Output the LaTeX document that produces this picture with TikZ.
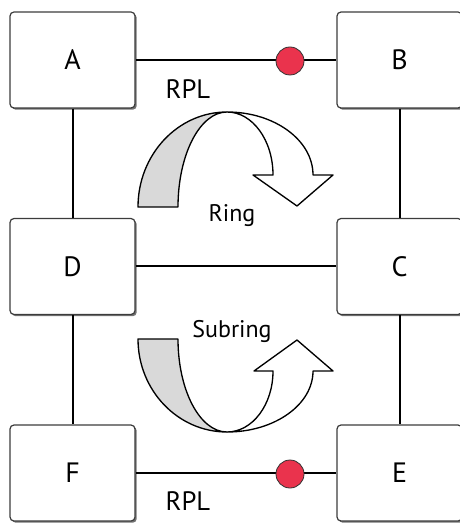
\documentclass[tikz,border=0pt]{standalone}
\usepackage{fontspec}
\setmainfont{PT Sans}
\usetikzlibrary{shadows}
\definecolor{rplred}{RGB}{234,51,77}
\definecolor{bandgray}{RGB}{217,217,217}
\definecolor{boxedge}{RGB}{60,60,60}
\begin{document}
\begin{tikzpicture}[x=0.75pt,y=-0.75pt,
  devbox/.style={draw=boxedge,line width=0.9pt,fill=white,rounded corners=3pt,
    minimum width=93.75pt,minimum height=72pt,inner sep=0pt,font=\fontsize{21}{24}\selectfont,
    drop shadow={shadow xshift=1.3pt,shadow yshift=-1.3pt,fill=black!55,opacity=1}},
  link/.style={line width=1.5pt,black},
  blocker/.style={circle,draw=black!80,line width=0.6pt,fill=rplred,minimum size=21pt,inner sep=0pt},
  lbl/.style={font=\fontsize{20}{24}\selectfont,anchor=base,inner sep=0pt},
  rlbl/.style={font=\fontsize{18}{22}\selectfont,anchor=base,inner sep=0pt},
  ribbon/.style={draw=black,line width=1pt,line join=round}]
\useasboundingbox (0,0) rectangle (459,523);
% links
\coordinate (rplTop) at (290,61);
\coordinate (rplBot) at (290,474);
\node[devbox] (A) at (72.5,60) {A};
\node[devbox] (B) at (399.5,60) {B};
\node[devbox] (D) at (72.5,266.5) {D};
\node[devbox] (C) at (399.5,266.5) {C};
\node[devbox] (F) at (72.5,473) {F};
\node[devbox] (E) at (399.5,473) {E};
\begin{scope}[on background layer/.style={}]
\end{scope}
\draw[link] (A.south) -- (D.north);
\draw[link] (D.south) -- (F.north);
\draw[link] (B.south) -- (C.north);
\draw[link] (C.south) -- (E.north);
\draw[link] (A.east) -- (B.west);
\draw[link] (D.east) -- (C.west);
\draw[link] (F.east) -- (E.west);
\node[blocker] (r1) at (rplTop) {};
\node[blocker] (r2) at (rplBot) {};
\node[lbl] (t1) at (188,99) {RPL};
\node[lbl] (t2) at (188,510) {RPL};
\node[rlbl] (t3) at (232,222) {Ring};
\node[rlbl] (t4) at (232,337) {Subring};
% top ribbon
\draw[ribbon,fill=bandgray] (227,112) arc[start angle=-90,end angle=-180,x radius=89,y radius=95]
  -- (178,207) arc[start angle=-180,end angle=-90,x radius=49,y radius=95] -- cycle;
\draw[ribbon,fill=white] (227,112) arc[start angle=-90,end angle=0,x radius=86,y radius=63]
  -- (333,175) -- (297,206) -- (253,175) -- (273,175)
  arc[start angle=0,end angle=-90,x radius=46,y radius=63] -- cycle;
% bottom ribbon
\draw[ribbon,fill=bandgray] (227,432) arc[start angle=90,end angle=180,x radius=89,y radius=93]
  -- (178,339) arc[start angle=180,end angle=90,x radius=49,y radius=93] -- cycle;
\draw[ribbon,fill=white] (227,432) arc[start angle=90,end angle=0,x radius=86,y radius=61]
  -- (333,371) -- (297,340) -- (254,371) -- (273,371)
  arc[start angle=0,end angle=90,x radius=46,y radius=61] -- cycle;
\end{tikzpicture}
\end{document}
